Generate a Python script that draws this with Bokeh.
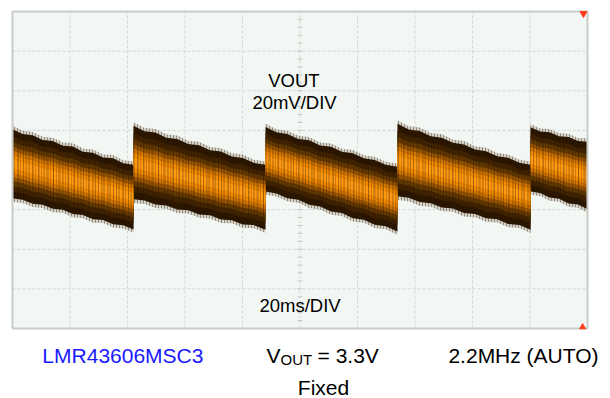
import numpy as np
from bokeh.plotting import figure
from bokeh.models import Range1d
from bokeh.embed import file_html
from bokeh.resources import INLINE
from bokeh.core.properties import value

FONT = "Liberation Sans"

# ---- data (time in ms, voltage deviation in mV; 20 ms/div, 20 mV/div) ----
t_ms = [0, 3.5, 7, 10.5, 14, 17.5, 21, 24.5, 28, 31.5, 35, 38.5, 42.1,
        42.1, 45.9, 49.7, 53.5, 57.3, 61.1, 64.9, 68.7, 72.5, 76.3, 80.1, 83.9, 88.0,
        88.0, 91.8, 95.6, 99.4, 103.2, 107.0, 110.8, 114.6, 118.4, 122.2, 126.0, 129.8, 133.9,
        133.9, 137.8, 141.6, 145.5, 149.3, 153.2, 157.0, 160.9, 164.7, 168.6, 172.4, 176.3, 180.2,
        180.2, 183.5, 186.8, 190.1, 193.4, 196.7, 200]
top_mv = [20.6, 18.2, 17.5, 15.1, 14.6, 12.3, 11.8, 9.2, 8.7, 6.3, 5.9, 3.4, 2.7,
          22.3, 19.5, 18.9, 16.3, 15.6, 13.1, 12.5, 10.0, 9.3, 6.8, 6.1, 3.6, 2.7,
          21.7, 19.0, 18.2, 15.7, 15.0, 12.4, 11.7, 9.2, 8.4, 5.9, 5.1, 2.6, 1.7,
          23.3, 20.4, 19.7, 17.0, 16.3, 13.7, 12.9, 10.3, 9.5, 7.0, 6.2, 3.6, 2.7,
          21.6, 19.4, 19.0, 17.0, 16.6, 14.6, 14.2]
bot_mv = [-14.3, -15.0, -17.0, -17.5, -19.6, -20.0, -22.2, -22.7, -24.9, -25.2, -27.4, -27.9, -30.0,
          -14.8, -15.4, -17.4, -17.9, -19.9, -20.3, -22.4, -22.8, -25.0, -25.3, -27.5, -27.8, -30.1,
          -10.8, -11.8, -14.2, -15.0, -17.6, -18.4, -20.9, -21.7, -24.3, -25.1, -27.6, -28.4, -31.1,
          -13.3, -14.0, -16.2, -16.8, -18.9, -19.4, -21.7, -22.2, -24.4, -24.9, -27.2, -27.7, -30.1,
          -10.8, -11.6, -13.9, -14.5, -16.9, -17.4, -19.8]

screen_ms = [0, 200]          # 10 divisions x 20 ms
screen_mv = [-80, 80]         # 8 divisions x 20 mV
x_grid_ms = [20, 40, 60, 80, 100, 120, 140, 160, 180]
y_grid_mv = [-60, -40, -20, 0, 20, 40, 60]

inner_labels = ["VOUT", "20mV/DIV", "20ms/DIV"]
caption_part = "LMR43606MSC3"
caption_vout = ["V", "OUT", "= 3.3V"]
caption_mode = "Fixed"
caption_freq = "2.2MHz (AUTO)"

# frame covers the whole canvas; the scope screen occupies px 12..587 x 11..328
p = figure(width=600, height=398,
           x_range=Range1d(-4.174, 204.522), y_range=Range1d(-115.331, 85.552),
           output_backend="svg", toolbar_location=None,
           x_axis_type=None, y_axis_type=None,
           min_border_left=0, min_border_right=0, min_border_top=0, min_border_bottom=0)
p.outline_line_color = None
p.background_fill_color = "white"
p.border_fill_color = "white"

x0, x1 = screen_ms
y0, y1 = screen_mv

# scope screen background
p.quad(left=[x0], right=[x1], bottom=[y0], top=[y1], fill_color="#f3f7f3", line_color=None)

# division grid
p.segment(x0=x_grid_ms, y0=[y0] * len(x_grid_ms), x1=x_grid_ms, y1=[y1] * len(x_grid_ms),
          line_color="#d4d7d4", line_dash="3 2", line_width=1)
p.segment(x0=[x0] * len(y_grid_mv), y0=y_grid_mv, x1=[x1] * len(y_grid_mv), y1=y_grid_mv,
          line_color="#d4d7d4", line_dash="3 2", line_width=1)

# minor division marks on the centre cross
minor_y = np.arange(y0 + 4, y1, 4)
minor_x = np.arange(x0 + 4, x1, 4)
xc = (x0 + x1) / 2
p.dash(x=[xc] * len(minor_y), y=minor_y, size=5, line_color="#c4c8c4", line_width=1)
p.dash(x=minor_x, y=[0] * len(minor_x), size=5, angle=np.pi / 2, line_color="#c4c8c4", line_width=1)

t = np.array(t_ms)
top = np.array(top_mv)
bot = np.array(bot_mv)
mid = (top + bot) / 2
half = (top - bot) / 2

# fringe of sparse noise spikes
p.varea(x=t, y1=mid - 1.10 * half, y2=mid + 1.10 * half, fill_color="#9a8e82", fill_alpha=0.35,
        hatch_pattern="vertical_line", hatch_color="#6e5c48", hatch_alpha=0.6, hatch_scale=3,
        hatch_weight=1)

layers = [(1.00, "#2a1600"),
          (0.80, "#3f2200"),
          (0.64, "#633800"),
          (0.50, "#985400"),
          (0.38, "#cf7400"),
          (0.26, "#f08900"),
          (0.13, "#ff9a12")]
for f, c in layers:
    p.varea(x=t, y1=mid - f * half, y2=mid + f * half, fill_color=c, fill_alpha=1.0)

# vertical striation texture of the noisy trace
for sc, al in [(3, 0.22), (5, 0.18), (7, 0.15)]:
    p.varea(x=t, y1=mid - 0.97 * half, y2=mid + 0.97 * half, fill_alpha=0.0,
            hatch_pattern="vertical_line", hatch_color="#2a1500", hatch_alpha=al,
            hatch_scale=sc, hatch_weight=1)

# screen border
p.quad(left=[x0], right=[x1], bottom=[y0], top=[y1], fill_color=None,
       line_color="#c9cdc9", line_width=2)

p.text(x=[97.9, 98.1, 100.0], y=[45.2, 34.3, -68.4], text=inner_labels,
       text_font=value(FONT), text_font_size="18.5px", text_align="center",
       text_baseline="middle", text_color="black")

# trigger / level markers
p.scatter(x=[198.6], y=[79.0], marker="inverted_triangle", size=7,
          fill_color="#ff3b1a", line_color="#ff3b1a")
p.scatter(x=[198.3], y=[-79.3], marker="triangle", size=6,
          fill_color="#ff3b1a", line_color="#ff3b1a")

# ---- caption below the screen ----
def cap(x, y, text, size="21px", align="left", color="black"):
    p.text(x=[x], y=[y], text=[text], text_font=value(FONT), text_font_size=size,
           text_align=align, text_baseline="middle", text_color=color)

cap(38.4, -93.4, caption_part, align="center", color="#1a1aff")
cap(88.35, -93.4, caption_vout[0])
cap(93.22, -95.5, caption_vout[1], size="15px")
cap(106.1, -93.4, caption_vout[2])
cap(177.74, -93.4, caption_freq, align="center")
cap(108.17, -110.0, caption_mode, align="center")

open("out.html", "w").write(file_html(p, INLINE))
